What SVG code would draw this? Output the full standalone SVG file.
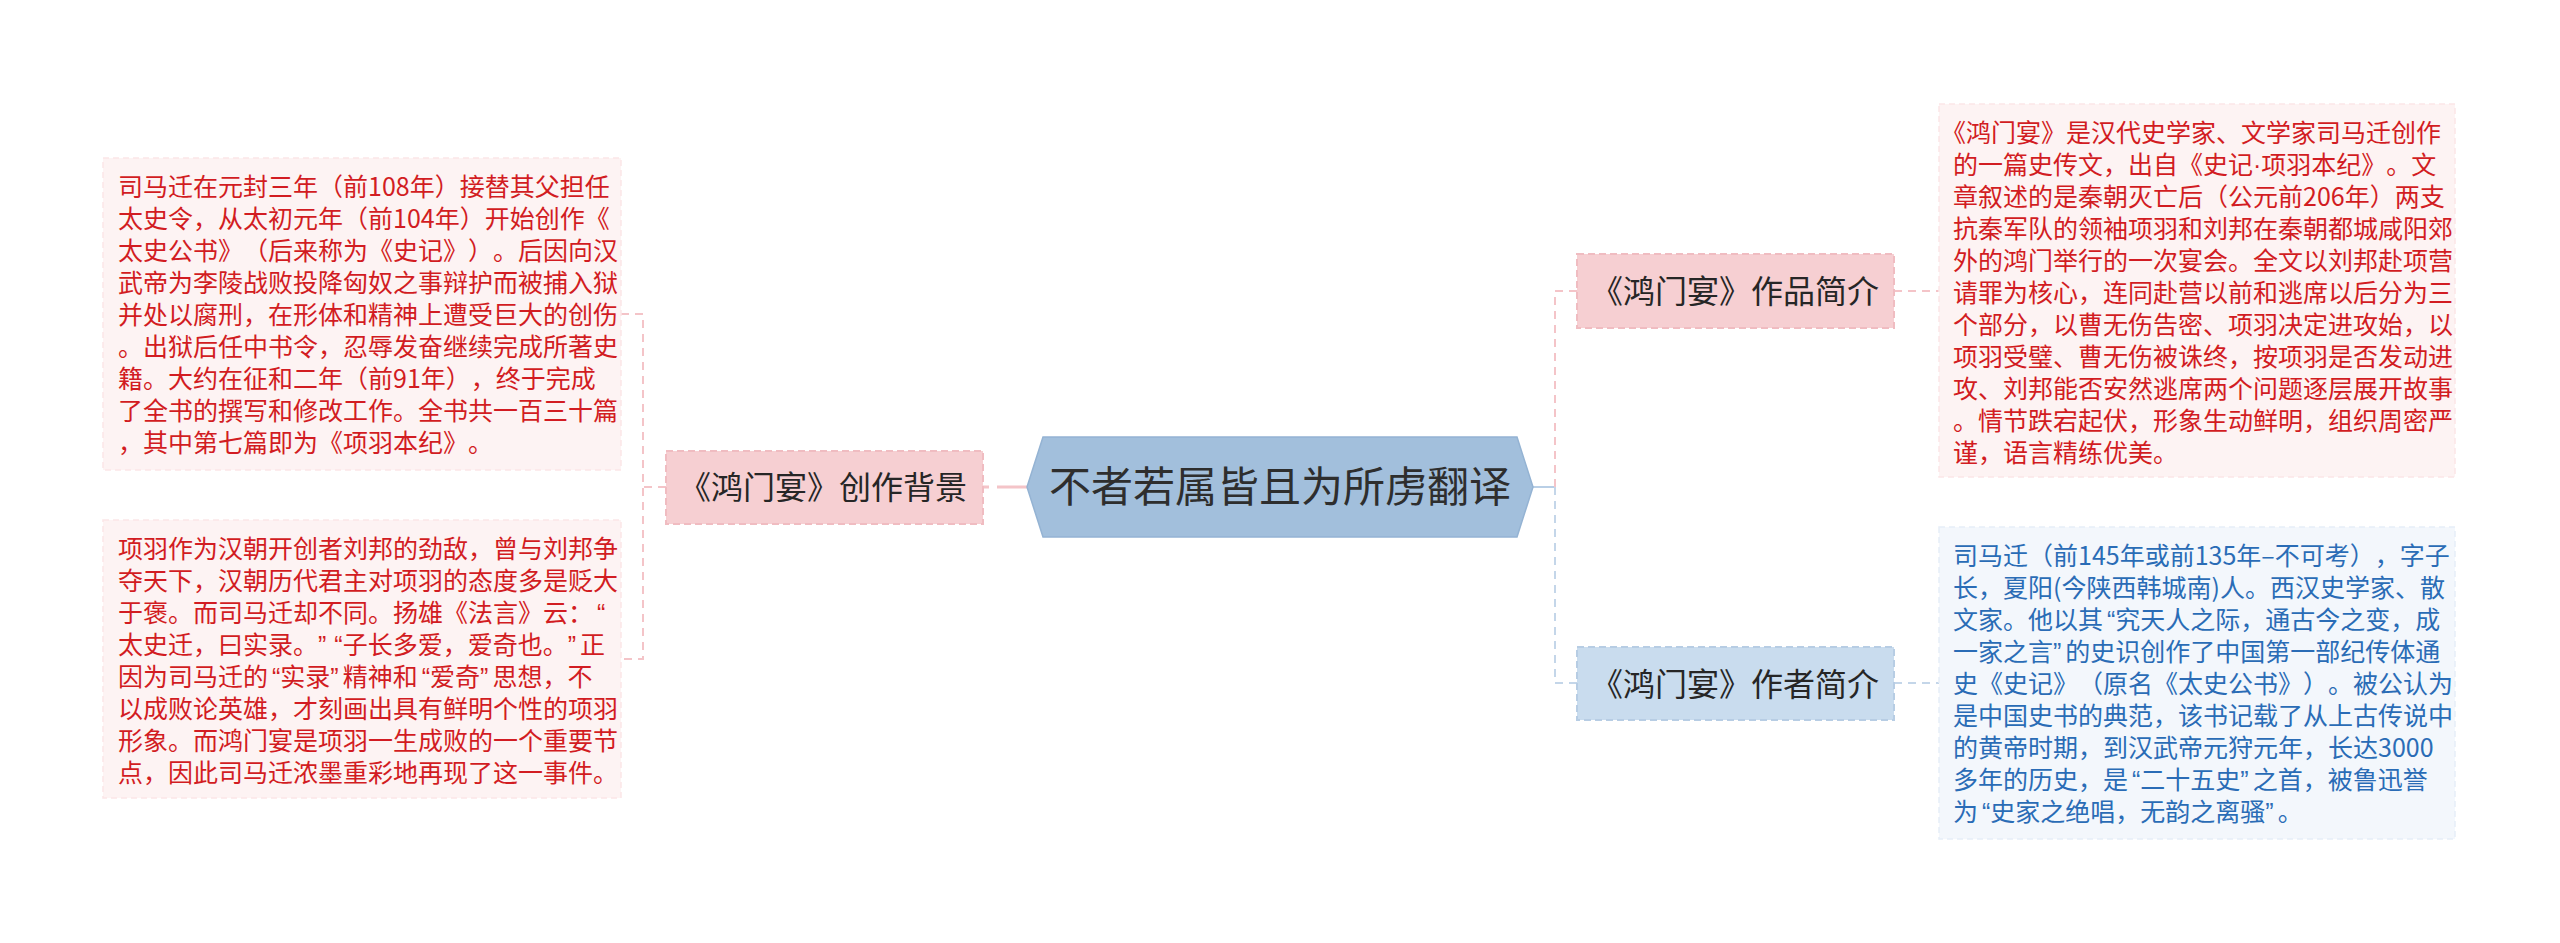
<svg xmlns="http://www.w3.org/2000/svg" width="2560" height="943" viewBox="0 0 2560 943">
<style>
text{text-spacing-trim:space-all}
.bg{fill:#ffffff}
.tp{fill:#fdf3f3;stroke:#fbe6e7;stroke-width:1.5;stroke-dasharray:6 4}
.tb{fill:#f3f7fc;stroke:#e6eef8;stroke-width:1.5;stroke-dasharray:6 4}
.l1p{fill:#f6cfd2;stroke:#f0bcc1;stroke-width:2;stroke-dasharray:7 4}
.l1b{fill:#c9dcee;stroke:#b7cde4;stroke-width:2;stroke-dasharray:7 4}
.root{fill:#a2bfdc;stroke:#94b3d3;stroke-width:1.5}
.rt{font-family:"Noto Sans CJK SC","Noto Sans",sans-serif;font-size:42px;fill:#2e2e2e;text-anchor:middle}
.l1t{font-family:"Noto Sans CJK SC","Noto Sans",sans-serif;font-size:32px;fill:#262626;text-anchor:middle}
.red{font-family:"Noto Sans CJK SC","Noto Sans",sans-serif;font-size:25px;fill:#d21c22}
.blue{font-family:"Noto Sans CJK SC","Noto Sans",sans-serif;font-size:25px;fill:#2a6cb6}
.dot{font-family:"Liberation Sans",sans-serif}
.q{font-family:"Liberation Sans",sans-serif;letter-spacing:4px}
.qo{font-family:"Liberation Sans",sans-serif}
.cp{fill:none;stroke:#f4c4c8;stroke-width:2;stroke-dasharray:8 6}
.cb{fill:none;stroke:#c4d6e9;stroke-width:2;stroke-dasharray:8 6}
</style>
<rect class="bg" x="0" y="0" width="2560" height="943"/>
<g id="connectors">
<path d="M1027,487 H983" fill="none" stroke="#f4c4c8" stroke-width="3" stroke-dasharray="30 8 6 100"/>
<path class="cp" d="M666,487 H643"/>
<path class="cp" d="M621,314 H643 V659 H621"/>
<path d="M1533,487 H1555" fill="none" stroke="#b9cfe6" stroke-width="2"/>
<path class="cp" d="M1555,487 V291 H1577"/>
<path class="cb" d="M1555,487 V683 H1577"/>
<path class="cp" d="M1894,291 H1939"/>
<path class="cb" d="M1894,683 H1939"/>
</g>
<g id="root">
<polygon class="root" points="1027,487 1043,437 1517,437 1533,487 1517,537 1043,537"/>
<text class="rt" x="1280" y="502">不者若属皆且为所虏翻译</text>
</g>
<g id="node-background">
<rect class="l1p" x="666" y="451" width="317" height="73"/>
<text class="l1t" x="823" y="499">《鸿门宴》创作背景</text>
</g>
<g id="node-work">
<rect class="l1p" x="1577" y="254" width="317" height="74"/>
<text class="l1t" x="1735" y="303">《鸿门宴》作品简介</text>
</g>
<g id="node-author">
<rect class="l1b" x="1577" y="647" width="317" height="73"/>
<text class="l1t" x="1735" y="696">《鸿门宴》作者简介</text>
</g>
<g id="text-bg1">
<rect class="tp" x="103" y="158" width="518" height="312"/>
<text class="red" x="118" y="196">
<tspan x="118" y="196">司马迁在元封三年（前108年）接替其父担任</tspan>
<tspan x="118" y="228">太史令，从太初元年（前104年）开始创作《</tspan>
<tspan x="118" y="260">太史公书》（后来称为《史记》）。后因向汉</tspan>
<tspan x="118" y="292">武帝为李陵战败投降匈奴之事辩护而被捕入狱</tspan>
<tspan x="118" y="324">并处以腐刑，在形体和精神上遭受巨大的创伤</tspan>
<tspan x="118" y="356">。出狱后任中书令，忍辱发奋继续完成所著史</tspan>
<tspan x="118" y="388">籍。大约在征和二年（前91年），终于完成</tspan>
<tspan x="118" y="420">了全书的撰写和修改工作。全书共一百三十篇</tspan>
<tspan x="118" y="452">，其中第七篇即为《项羽本纪》。</tspan>
</text>
</g>
<g id="text-bg2">
<rect class="tp" x="103" y="520" width="518" height="278"/>
<text class="red" x="118" y="558">
<tspan x="118" y="558">项羽作为汉朝开创者刘邦的劲敌，曾与刘邦争</tspan>
<tspan x="118" y="590">夺天下，汉朝历代君主对项羽的态度多是贬大</tspan>
<tspan x="118" y="622">于褒。而司马迁却不同。扬雄《法言》云：<tspan class="qo" dx="4">“</tspan></tspan>
<tspan x="118" y="654">太史迁，曰实录。<tspan class="q">”</tspan><tspan class="qo" dx="4">“</tspan>子长多爱，爱奇也。<tspan class="q">”</tspan>正</tspan>
<tspan x="118" y="686">因为司马迁的<tspan class="qo" dx="4">“</tspan>实录<tspan class="q">”</tspan>精神和<tspan class="qo" dx="4">“</tspan>爱奇<tspan class="q">”</tspan>思想，不</tspan>
<tspan x="118" y="718">以成败论英雄，才刻画出具有鲜明个性的项羽</tspan>
<tspan x="118" y="750">形象。而鸿门宴是项羽一生成败的一个重要节</tspan>
<tspan x="118" y="782">点，因此司马迁浓墨重彩地再现了这一事件。</tspan>
</text>
</g>
<g id="text-work">
<rect class="tp" x="1939" y="104" width="516" height="373"/>
<text class="red" x="1953" y="142">
<tspan x="1941" y="142">《鸿门宴》是汉代史学家、文学家司马迁创作</tspan>
<tspan x="1953" y="174">的一篇史传文，出自《史记<tspan class="dot">·</tspan>项羽本纪》。文</tspan>
<tspan x="1953" y="206">章叙述的是秦朝灭亡后（公元前206年）两支</tspan>
<tspan x="1953" y="238">抗秦军队的领袖项羽和刘邦在秦朝都城咸阳郊</tspan>
<tspan x="1953" y="270">外的鸿门举行的一次宴会。全文以刘邦赴项营</tspan>
<tspan x="1953" y="302">请罪为核心，连同赴营以前和逃席以后分为三</tspan>
<tspan x="1953" y="334">个部分，以曹无伤告密、项羽决定进攻始，以</tspan>
<tspan x="1953" y="366">项羽受璧、曹无伤被诛终，按项羽是否发动进</tspan>
<tspan x="1953" y="398">攻、刘邦能否安然逃席两个问题逐层展开故事</tspan>
<tspan x="1953" y="430">。情节跌宕起伏，形象生动鲜明，组织周密严</tspan>
<tspan x="1953" y="462">谨，语言精练优美。</tspan>
</text>
</g>
<g id="text-author">
<rect class="tb" x="1939" y="527" width="516" height="312"/>
<text class="blue" x="1953" y="565">
<tspan x="1953" y="565">司马迁（前145年或前135年–不可考），字子</tspan>
<tspan x="1953" y="597">长，夏阳(今陕西韩城南)人。西汉史学家、散</tspan>
<tspan x="1953" y="629">文家。他以其<tspan class="qo" dx="4">“</tspan>究天人之际，通古今之变，成</tspan>
<tspan x="1953" y="661">一家之言<tspan class="q">”</tspan>的史识创作了中国第一部纪传体通</tspan>
<tspan x="1953" y="693">史《史记》（原名《太史公书》）。被公认为</tspan>
<tspan x="1953" y="725">是中国史书的典范，该书记载了从上古传说中</tspan>
<tspan x="1953" y="757">的黄帝时期，到汉武帝元狩元年，长达3000</tspan>
<tspan x="1953" y="789">多年的历史，是<tspan class="qo" dx="4">“</tspan>二十五史<tspan class="q">”</tspan>之首，被鲁迅誉</tspan>
<tspan x="1953" y="821">为<tspan class="qo" dx="4">“</tspan>史家之绝唱，无韵之离骚<tspan class="q">”</tspan>。</tspan>
</text>
</g>
</svg>
